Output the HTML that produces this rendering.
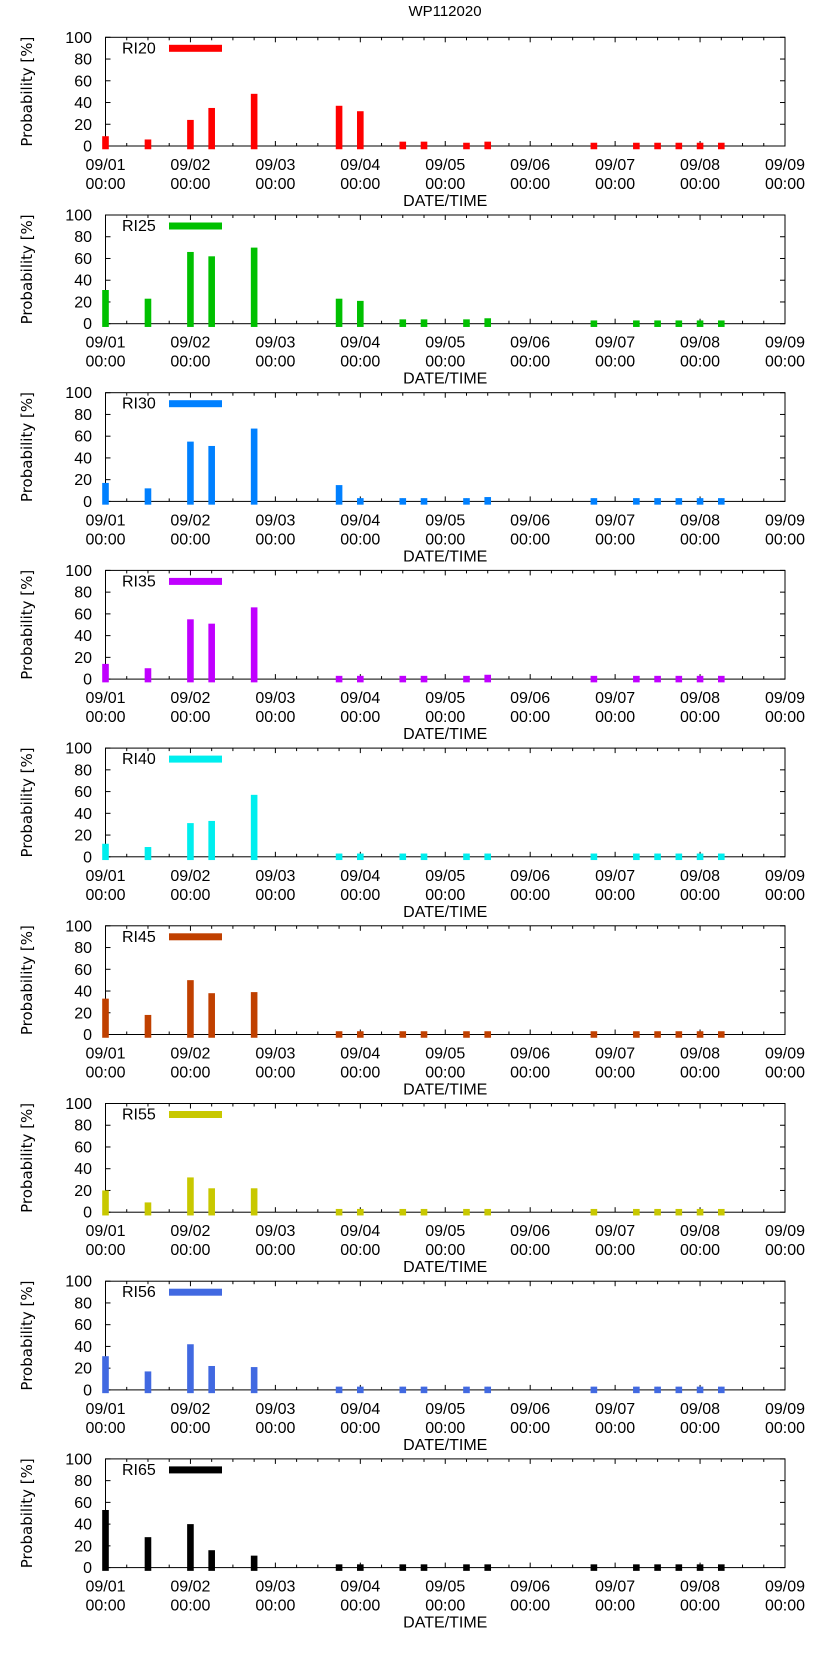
<!DOCTYPE html>
<html><head><meta charset="utf-8"><style>
html,body{margin:0;padding:0;background:#fff;}
svg text{font-family:"Liberation Sans",sans-serif;fill:#000;}
</style></head><body>
<svg id="chart" width="822" height="1653" viewBox="0 0 822 1653" xmlns="http://www.w3.org/2000/svg">
<text x="445" y="16" font-size="15" text-anchor="middle">WP112020</text>
</svg>
<script>
// time of each forecast bar, in days since 09/01 00:00
const times = [0,0.5,1.0,1.25,1.75,2.75,3.0,3.5,3.75,4.25,4.5,5.75,6.25,6.5,6.75,7.0,7.25];
const seriesNames = ["RI20","RI25","RI30","RI35","RI40","RI45","RI55","RI56","RI65"];
const seriesColors = ["#ff0000","#00c000","#0080ff","#c000ff","#00eeee","#c04000","#c8c800","#4169e1","#000000"];
const valuesRI20 = [9,6,24,35,48,37,32,4,4,3,4,3,3,3,3,3,3];
const valuesRI25 = [31,23,66,62,70,23,21,4,4,4,5,3,3,3,3,3,3];
const valuesRI30 = [17,12,55,51,67,15,3,3,3,3,4,3,3,3,3,3,3];
const valuesRI35 = [14,10,55,51,66,3,3,3,3,3,4,3,3,3,3,3,3];
const valuesRI40 = [12,9,31,33,57,3,3,3,3,3,3,3,3,3,3,3,3];
const valuesRI45 = [33,18,50,38,39,3,3,3,3,3,3,3,3,3,3,3,3];
const valuesRI55 = [20,9,32,22,22,3,3,3,3,3,3,3,3,3,3,3,3];
const valuesRI56 = [31,17,42,22,21,3,3,3,3,3,3,3,3,3,3,3,3];
const valuesRI65 = [53,28,40,16,11,3,3,3,3,3,3,3,3,3,3,3,3];
const allValues = [valuesRI20,valuesRI25,valuesRI30,valuesRI35,valuesRI40,valuesRI45,valuesRI55,valuesRI56,valuesRI65];
const xTickLabels = ["09/01","09/02","09/03","09/04","09/05","09/06","09/07","09/08","09/09"];
const yTickLabels = [0,20,40,60,80,100];

const svg = document.getElementById('chart');
const NS = 'http://www.w3.org/2000/svg';
const L = 105.5, R = 785, H = 108.7, TOP0 = 37.3, STEP = 177.7;
function mk(tag, attrs, parent){ const e=document.createElementNS(NS,tag); for(const k in attrs) e.setAttribute(k,attrs[k]); (parent||svg).appendChild(e); return e; }
function xs(d){ return L + d*(R-L)/8; }

seriesNames.forEach((name, p) => {
  const top = TOP0 + p*STEP, bot = top + H;
  const ys = v => bot - v*H/100;
  const g = mk('g', {});
  
  
  // frame
  const fr = mk('rect', {x: L, y: top, width: R-L, height: H, fill: 'none', stroke: '#000', 'stroke-width': 1}, g);
  
  
  // y ticks
  yTickLabels.forEach(t => {
    const y = ys(t);
    mk('line', {x1: L, x2: L+5, y1: y, y2: y, stroke: '#000'}, g);
    mk('line', {x1: R, x2: R-5, y1: y, y2: y, stroke: '#000'}, g);
    const tx = mk('text', {x: 92, y: y+5.5, 'font-size': 16, 'text-anchor': 'end'}, g);
    tx.textContent = t;
    
    
  });
  // x ticks
  for (let q = 0; q <= 32; q++) {
    const x = xs(q/4), len = (q % 4 === 0) ? 5 : 3;
    mk('line', {x1: x, x2: x, y1: bot, y2: bot-len, stroke: '#000'}, g);
    mk('line', {x1: x, x2: x, y1: top, y2: top+len, stroke: '#000'}, g);
  }
  // bars (drawn over ticks)
  allValues[p].forEach((v, i) => {
    const r = mk('rect', {x: xs(times[i]) - 3.3, y: ys(v), width: 6.6, height: Math.max(0, ys(-3) - ys(v)), fill: seriesColors[p]}, g);
    
    
  });
  xTickLabels.forEach((lab, i) => {
    const x = xs(i);
    const t1 = mk('text', {x: x, y: bot+24, 'font-size': 16, 'text-anchor': 'middle'}, g);
    t1.textContent = lab;
    
    
    const t2 = mk('text', {x: x, y: bot+43, 'font-size': 16, 'text-anchor': 'middle'}, g);
    t2.textContent = '00:00';
    
    
  });
  const xt = mk('text', {x: (L+R)/2, y: bot+60, 'font-size': 16, 'text-anchor': 'middle'}, g);
  xt.textContent = 'DATE/TIME';
  
  
  const yt = mk('text', {x: 0, y: 0, 'font-size': 15, 'text-anchor': 'middle', style: 'font-family:"DejaVu Sans",sans-serif', transform: 'translate(32,' + (top + H/2) + ') rotate(-90)'}, g);
  yt.textContent = 'Probability [%]';
  
  
  // legend
  const lt = mk('text', {x: 122, y: top+16, 'font-size': 16}, g);
  lt.textContent = name;
  
  
  const ls = mk('rect', {x: 169, y: top+7.5, width: 53, height: 7, fill: seriesColors[p]}, g);
  
  
});
</script>
</body></html>
